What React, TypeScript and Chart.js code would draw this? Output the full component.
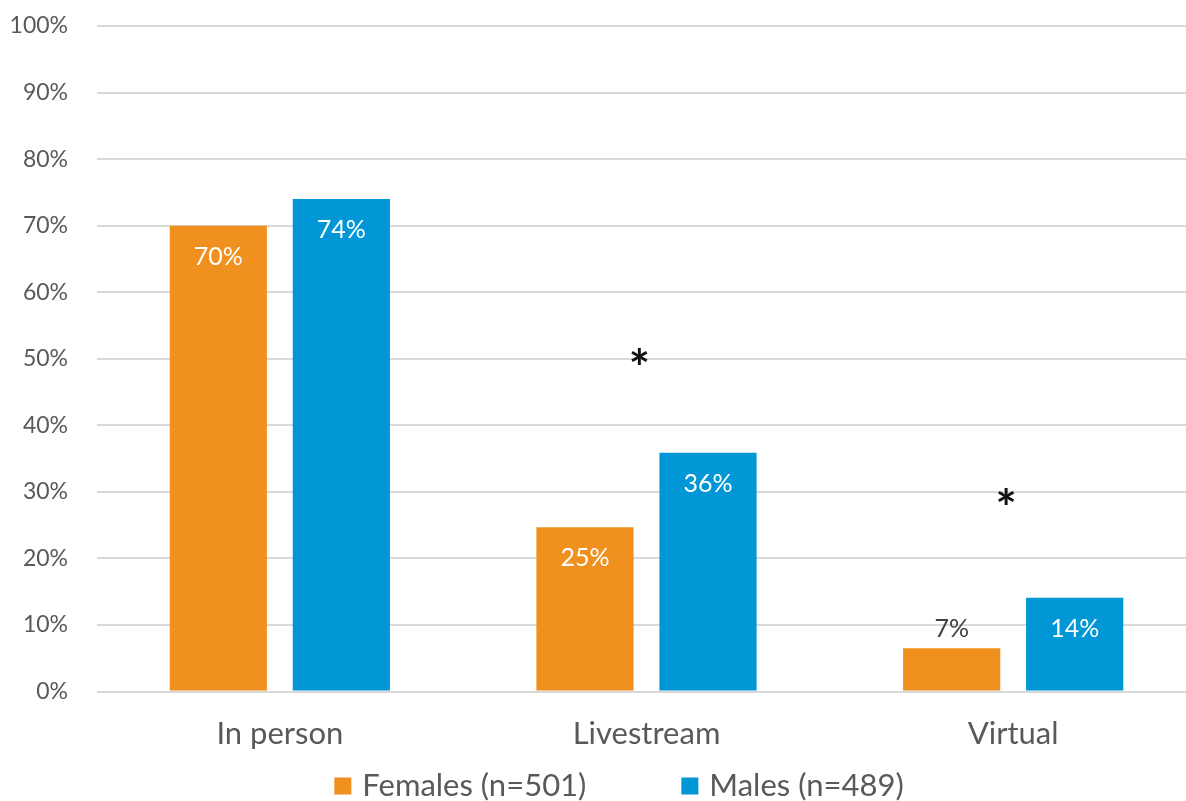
import React, { useEffect, useRef } from "react";
import { Chart, registerables } from "chart.js";

Chart.register(...registerables);

const categories = ["In person", "Livestream", "Virtual"];
const femalesValues = [70, 24.7, 6.5];
const malesValues = [74, 35.9, 14.1];
const femalesLabels = ["70%", "25%", "7%"];
const malesLabels = ["74%", "36%", "14%"];
const seriesNames = ["Females (n=501)", "Males (n=489)"];
const significanceMarks = [null, 50, 29];

const FONT = "Lato, 'Open Sans', sans-serif";
const ORANGE = "#F0901F";
const BLUE = "#0197D6";
const TEXT = "#595959";

const labelsPlugin = {
  id: "barLabels",
  afterDatasetsDraw(chart: any) {
    const ctx = chart.ctx;
    const allLabels = [femalesLabels, malesLabels];
    ctx.save();
    ctx.font = `25px ${FONT}`;
    ctx.textAlign = "center";
    ctx.textBaseline = "middle";
    chart.data.datasets.forEach((ds: any, di: number) => {
      const meta = chart.getDatasetMeta(di);
      meta.data.forEach((el: any, i: number) => {
        const v = ds.data[i];
        const txt = allLabels[di][i];
        if (v < 10) {
          ctx.fillStyle = "#404040";
          ctx.fillText(txt, el.x, el.y - 19);
        } else {
          ctx.fillStyle = "#FFFFFF";
          ctx.fillText(txt, el.x, el.y + 31);
        }
      });
    });
    const xs = chart.scales.x;
    const ys = chart.scales.y;
    ctx.font = `bold 50px ${FONT}`;
    ctx.fillStyle = "#111111";
    ctx.textBaseline = "alphabetic";
    significanceMarks.forEach((m, i) => {
      if (m === null) return;
      ctx.fillText("*", xs.getPixelForValue(i) - 7, ys.getPixelForValue(m) + 27);
    });
    ctx.restore();
  },
};

const legendPlugin = {
  id: "bottomLegend",
  afterDraw(chart: any) {
    const ctx = chart.ctx;
    const box = 17;
    const boxGap = 11;
    const itemGap = 95;
    ctx.save();
    ctx.font = `31px ${FONT}`;
    ctx.textBaseline = "middle";
    ctx.textAlign = "left";
    const items = chart.data.datasets.map((ds: any) => ({
      text: ds.label,
      color: ds.backgroundColor,
      w: ctx.measureText(ds.label).width,
    }));
    const total =
      items.reduce((s: number, it: any) => s + box + boxGap + it.w, 0) +
      itemGap * (items.length - 1);
    let x = chart.width / 2 + 19 - total / 2;
    const cy = chart.height - 15;
    items.forEach((it: any) => {
      ctx.fillStyle = it.color;
      ctx.fillRect(x, cy - box / 2, box, box);
      ctx.fillStyle = TEXT;
      ctx.fillText(it.text, x + box + boxGap, cy);
      x += box + boxGap + it.w + itemGap;
    });
    ctx.restore();
  },
};

export default function App() {
  const ref = useRef<HTMLCanvasElement | null>(null);
  useEffect(() => {
    if (!ref.current) return;
    const chart = new Chart(ref.current, {
      type: "bar",
      data: {
        labels: categories,
        datasets: [
          {
            label: seriesNames[0],
            data: femalesValues,
            backgroundColor: ORANGE,
            barPercentage: 0.79,
            categoryPercentage: 0.671,
          },
          {
            label: seriesNames[1],
            data: malesValues,
            backgroundColor: BLUE,
            barPercentage: 0.79,
            categoryPercentage: 0.671,
          },
        ],
      },
      options: {
        responsive: false,
        animation: false,
        layout: { padding: { top: 0, left: 5, right: 3.5, bottom: 25.4 } },
        plugins: {
          tooltip: { enabled: false },
          legend: { display: false },
        },
        scales: {
          x: {
            grid: { display: false, drawTicks: false },
            border: { display: false },
            ticks: {
              color: TEXT,
              font: { family: FONT, size: 31 },
              padding: 23.4,
            },
          },
          y: {
            min: 0,
            max: 100,
            border: { display: false },
            grid: { color: "#D9D9D9", lineWidth: 2, drawTicks: false },
            afterFit: (scale: any) => {
              scale.width = 91.5;
              scale.paddingTop = 26;
              scale.paddingBottom = 0;
            },
            ticks: {
              stepSize: 10,
              padding: 28.5,
              color: TEXT,
              font: { family: FONT, size: 23 },
              callback: (v: any) => `${v}%`,
            },
          },
        },
      },
      plugins: [labelsPlugin, legendPlugin],
    });
    return () => chart.destroy();
  }, []);
  return (
    <div
      style={{
        position: "fixed",
        left: 0,
        top: 0,
        width: 1186,
        height: 801,
        overflow: "hidden",
        background: "#fff",
      }}
    >
      <canvas ref={ref} width={1200} height={801} style={{ display: "block" }} />
    </div>
  );
}
